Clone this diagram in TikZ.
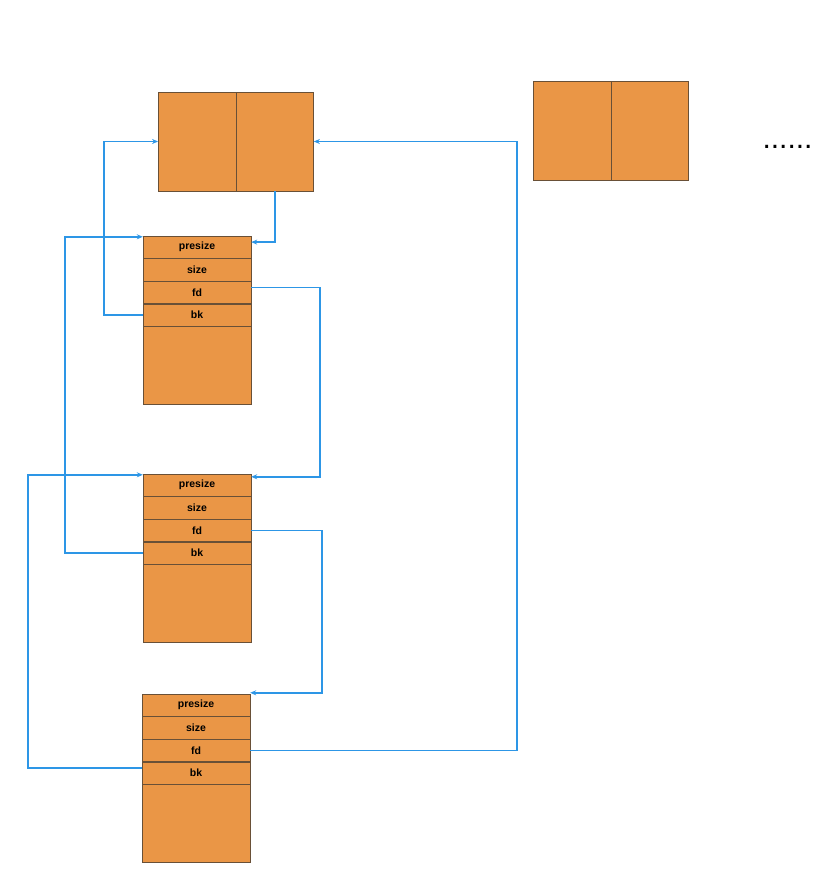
\documentclass[tikz,border=0pt]{standalone}
\usepackage{fontspec}
\setmainfont{Liberation Sans}
\usepackage{xcolor}
\usepackage{tikz}
\usetikzlibrary{arrows.meta,positioning}
\definecolor{chunkfill}{RGB}{234,150,70}
\definecolor{chunkline}{RGB}{105,80,55}
\definecolor{linkblue}{RGB}{45,150,230}
\tikzset{
  cell/.style={draw=chunkline,fill=chunkfill,minimum width=77.5pt,minimum height=99pt,inner sep=0pt},
  field/.style={draw=chunkline,fill=chunkfill,minimum width=108pt,minimum height=22.2pt,inner sep=0pt,font=\bfseries\fontsize{10.5}{12}\selectfont},
  body/.style={field,minimum height=77.5pt},
  link/.style={-{Stealth[length=6pt,width=5pt]},draw=linkblue,line width=1.5pt},
}

\begin{document}
\begin{tikzpicture}[x=1pt,y=-1pt]
\useasboundingbox (0,0) rectangle (834,875);
\node[cell] (hl) at (197,141.5) {};
\node[cell,right=0pt of hl] (hr) {};
\node[cell] (nl) at (572,131) {};
\node[cell,right=0pt of nl] (nr) {};
\node[anchor=base west,font=\fontsize{30}{30}\selectfont] (more) at (759,148) {......};
\foreach \i/\x/\t in {1/197/236,2/197/474,3/196/694}{
  \node[field] (p\i) at (\x,\t+11.1) {presize};
  \node[field,below=0pt of p\i] (s\i) {size};
  \node[field,below=0pt of s\i] (f\i) {fd};
  \node[field,below=0pt of f\i] (b\i) {bk};
  \node[body,below=0pt of b\i] (d\i) {};
}
\draw[link] (hr.south) |- ([yshift=5pt]p1.east);
\draw[link] (b1.west) -- ++(-39,0) |- (hl.west);
\draw[link] ([yshift=5pt]f1.east) -- ++(69,0) |- ([yshift=-3pt]p2.north east);
\draw[link] (b2.west) -- ++(-78,0) |- ([yshift=-1pt]p1.north west);
\draw[link] (f2.east) -- ++(71,0) |- ([yshift=1pt]p3.north east);
\draw[link] ([yshift=5pt]b3.west) -- ++(-114,0) |- ([yshift=-1pt]p2.north west);
\draw[link] (f3.east) -- ++(267,0) |- (hr.east);
\end{tikzpicture}
\end{document}
